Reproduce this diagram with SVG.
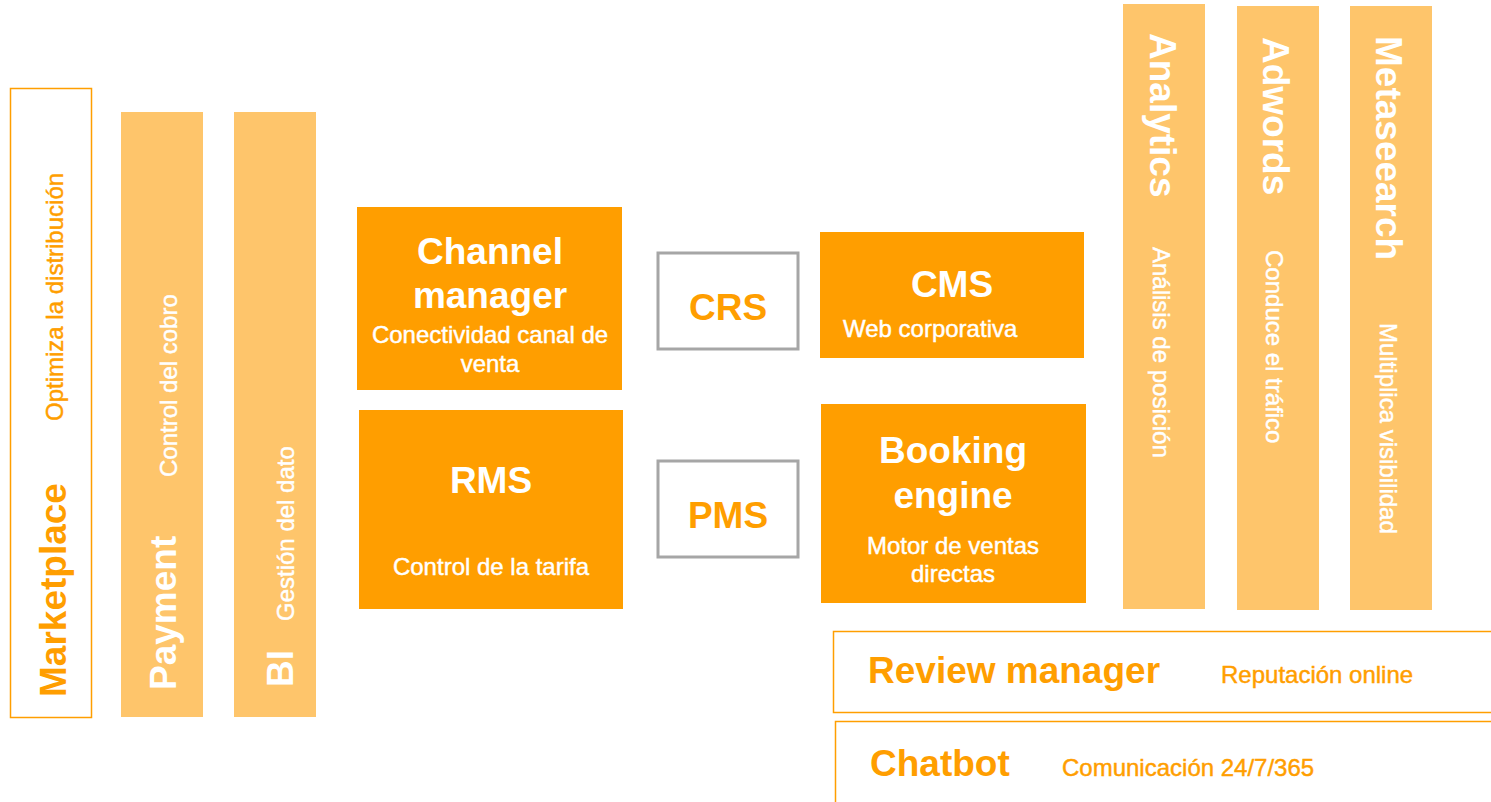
<svg xmlns="http://www.w3.org/2000/svg" width="1491" height="802" viewBox="0 0 1491 802">
<style>
text{font-family:"Liberation Sans",Arial,sans-serif}
.b{font-weight:bold;font-size:37px}
.s{font-size:24px;stroke-width:0.45}
.w{fill:#ffffff}
.s.w{stroke:#ffffff}
.o{fill:#ff9e00}
.s.o{stroke:#ff9e00}
.dk{fill:#ff9e00}
.lt{fill:#fec56b}
.ob{fill:#ffffff;stroke:#ff9e00;stroke-width:1.5}
.gb{fill:#ffffff;stroke:#a6a6a6;stroke-width:3}
.c{text-anchor:middle}
</style>
<rect width="1491" height="802" fill="#ffffff"/>
<g id="marketplace">
<rect class="ob" x="10.5" y="88.5" width="81" height="629"/>
<text class="b o" transform="translate(66,697) rotate(-90)">Marketplace</text>
<text class="s o" transform="translate(63,421) rotate(-90)">Optimiza la distribución</text>
</g>
<g id="payment">
<rect class="lt" x="121" y="112" width="82" height="605"/>
<text class="b w" transform="translate(176,690) rotate(-90)">Payment</text>
<text class="s w" transform="translate(177,477) rotate(-90)">Control del cobro</text>
</g>
<g id="bi">
<rect class="lt" x="234" y="112" width="82" height="605"/>
<text class="b w" transform="translate(293,687) rotate(-90)">BI</text>
<text class="s w" transform="translate(294,621) rotate(-90)">Gestión del dato</text>
</g>
<g id="channel-manager">
<rect class="dk" x="357" y="207" width="265" height="183"/>
<text class="b w c" x="490" y="264">Channel</text>
<text class="b w c" x="490" y="308">manager</text>
<text class="s w c" x="490" y="343">Conectividad canal de</text>
<text class="s w c" x="490" y="372">venta</text>
</g>
<g id="rms">
<rect class="dk" x="359" y="410" width="264" height="199"/>
<text class="b w c" x="491" y="493">RMS</text>
<text class="s w c" x="491" y="575">Control de la tarifa</text>
</g>
<g id="crs">
<rect class="gb" x="658" y="253" width="140" height="96"/>
<text class="b o c" x="728" y="320">CRS</text>
</g>
<g id="pms">
<rect class="gb" x="658" y="461" width="140" height="96"/>
<text class="b o c" x="728" y="528">PMS</text>
</g>
<g id="cms">
<rect class="dk" x="820" y="232" width="264" height="126"/>
<text class="b w c" x="952" y="297">CMS</text>
<text class="s w" x="843" y="337">Web corporativa</text>
</g>
<g id="booking-engine">
<rect class="dk" x="821" y="404" width="265" height="199"/>
<text class="b w c" x="953" y="463">Booking</text>
<text class="b w c" x="953" y="508">engine</text>
<text class="s w c" x="953" y="554">Motor de ventas</text>
<text class="s w c" x="953" y="582">directas</text>
</g>
<g id="analytics">
<rect class="lt" x="1123" y="4" width="82" height="605"/>
<text class="b w" transform="translate(1150,33) rotate(90)">Analytics</text>
<text class="s w" transform="translate(1153,247) rotate(90)">Análisis de posición</text>
</g>
<g id="adwords">
<rect class="lt" x="1237" y="6" width="82" height="604"/>
<text class="b w" transform="translate(1263,37) rotate(90)">Adwords</text>
<text class="s w" transform="translate(1266,250) rotate(90)">Conduce el tráfico</text>
</g>
<g id="metasearch">
<rect class="lt" x="1350" y="6" width="82" height="604"/>
<text class="b w" transform="translate(1376,36) rotate(90)">Metaseearch</text>
<text class="s w" transform="translate(1380,323) rotate(90)">Multiplica visibilidad</text>
</g>
<g id="review-manager">
<rect class="ob" x="833.5" y="631.5" width="670" height="81"/>
<text class="b o" x="868" y="683">Review manager</text>
<text class="s o" x="1221" y="683">Reputación online</text>
</g>
<g id="chatbot">
<rect class="ob" x="835.5" y="721.5" width="670" height="100"/>
<text class="b o" x="870" y="776">Chatbot</text>
<text class="s o" x="1062" y="776">Comunicación 24/7/365</text>
</g>
<g id="connectors"></g>
</svg>
